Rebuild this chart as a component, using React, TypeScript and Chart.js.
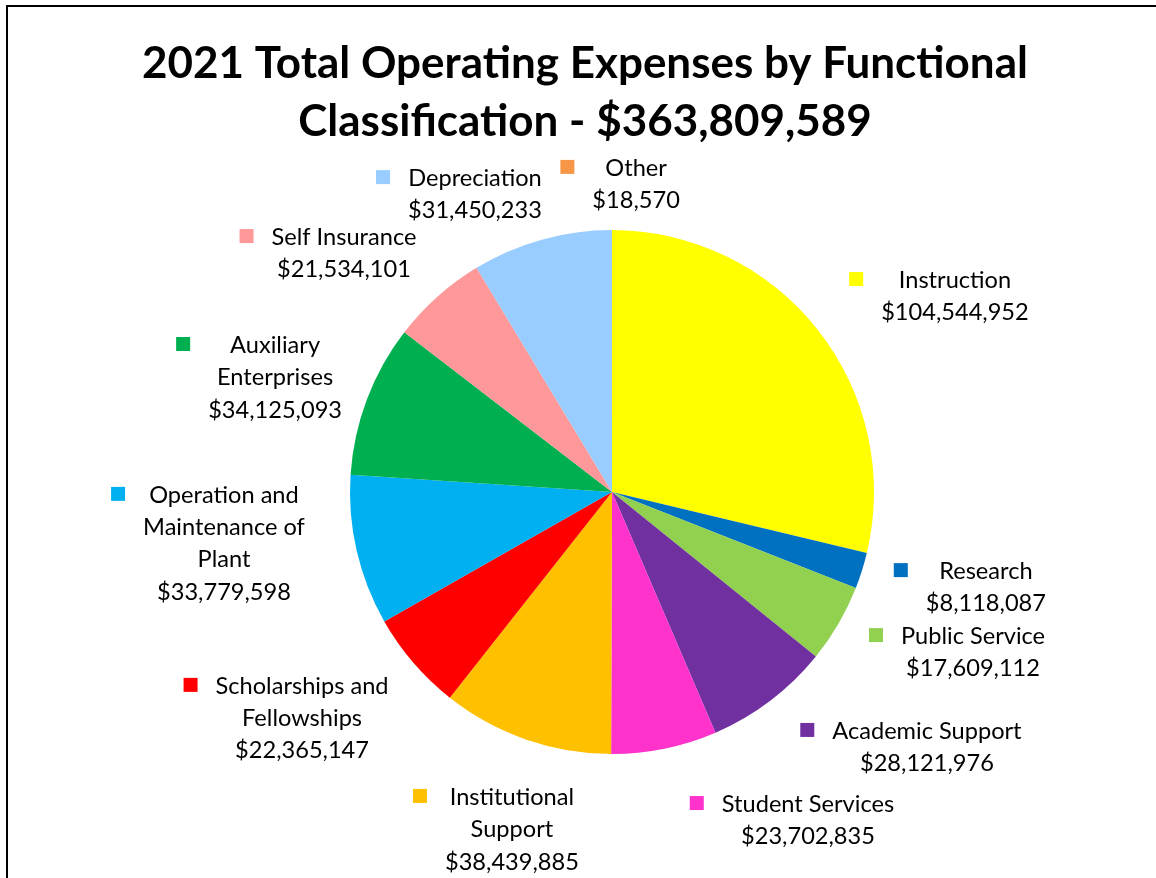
import React, { useEffect, useRef } from "react";
import { Chart, registerables } from "chart.js";

Chart.register(...registerables);

const categories = [
  "Instruction",
  "Research",
  "Public Service",
  "Academic Support",
  "Student Services",
  "Institutional Support",
  "Scholarships and Fellowships",
  "Operation and Maintenance of Plant",
  "Auxiliary Enterprises",
  "Self Insurance",
  "Depreciation",
  "Other",
];

const values = [
  104544952, 8118087, 17609112, 28121976, 23702835, 38439885, 22365147, 33779598,
  34125093, 21534101, 31450233, 18570,
];

const colors = [
  "#FFFF00",
  "#0070C0",
  "#92D050",
  "#7030A0",
  "#FF33CC",
  "#FFC000",
  "#FF0000",
  "#00B0F0",
  "#00B050",
  "#FF9999",
  "#99CCFF",
  "#F79646",
];

const labelLines = [
  ["Instruction"],
  ["Research"],
  ["Public Service"],
  ["Academic Support"],
  ["Student Services"],
  ["Institutional", "Support"],
  ["Scholarships and", "Fellowships"],
  ["Operation and", "Maintenance of", "Plant"],
  ["Auxiliary", "Enterprises"],
  ["Self Insurance"],
  ["Depreciation"],
  ["Other"],
];

// label anchor (text centre x, first-line middle y) in units of the pie radius, relative to pie centre
const labelOffsets = [
  [1.309, -0.809],
  [1.427, 0.302],
  [1.378, 0.55],
  [1.202, 0.912],
  [0.748, 1.191],
  [-0.382, 1.164],
  [-1.183, 0.74],
  [-1.481, 0.011],
  [-1.286, -0.561],
  [-1.023, -0.973],
  [-0.523, -1.198],
  [0.092, -1.237],
];

const titleYear = "2021";

const fmt = (v: number) => "$" + v.toLocaleString("en-US");

const total = values.reduce((a, b) => a + b, 0);
const titleLines = [
  `${titleYear} Total Operating Expenses by Functional`,
  `Classification - ${fmt(total)}`,
];

const decorPlugin = {
  id: "decor",
  beforeDraw(chart: any) {
    const ctx = chart.ctx as CanvasRenderingContext2D;
    ctx.save();
    ctx.fillStyle = "#FFFFFF";
    ctx.fillRect(0, 0, chart.width, chart.height);
    ctx.fillStyle = "#000000";
    ctx.fillRect(6, 5, 2, chart.height);
    ctx.fillRect(6, 5, chart.width, 2);
    ctx.restore();
  },
  afterDatasetsDraw(chart: any) {
    const ctx = chart.ctx as CanvasRenderingContext2D;
    const meta = chart.getDatasetMeta(0);
    const arc = meta.data[0] as any;
    const cx = arc.x;
    const cy = arc.y;
    const r = arc.outerRadius;
    ctx.save();

    // Title
    ctx.fillStyle = "#000000";
    ctx.textAlign = "center";
    ctx.textBaseline = "alphabetic";
    ctx.font = "bold 40px Lato";
    const w0 = ctx.measureText(titleLines[0]).width;
    const size = (40 * 886) / w0;
    ctx.font = `bold ${size.toFixed(2)}px Lato`;
    ctx.fillText(titleLines[0], 585, 78);
    ctx.fillText(titleLines[1], 585, 136);

    // Data labels
    const lineH = 32.3;
    ctx.font = "23.6px Lato";
    labelLines.forEach((lines, i) => {
      const all = [...lines, fmt(values[i])];
      const w = Math.max(...all.map((t) => ctx.measureText(t).width));
      const ax = cx + labelOffsets[i][0] * r;
      const ay = cy + labelOffsets[i][1] * r;
      ctx.fillStyle = "#000000";
      ctx.textAlign = "center";
      all.forEach((t, j) => ctx.fillText(t, ax, ay + j * lineH + 8));
      const left = ax - w / 2;
      ctx.fillStyle = colors[i];
      ctx.fillRect(left - 25 - 7, ay - 1 - 7, 14, 14);
    });
    ctx.restore();
  },
};

export default function App() {
  const ref = useRef<HTMLCanvasElement | null>(null);
  useEffect(() => {
    if (!ref.current) return;
    const chart = new Chart(ref.current, {
      type: "pie",
      data: {
        labels: categories,
        datasets: [
          {
            data: values,
            backgroundColor: colors,
            borderWidth: 0,
            hoverOffset: 0,
          },
        ],
      },
      options: {
        responsive: false,
        animation: false,
        events: [],
        layout: { padding: { left: 350, right: 282, top: 230, bottom: 124 } },
        plugins: {
          legend: { display: false },
          title: { display: false },
          tooltip: { enabled: false },
        },
      },
      plugins: [decorPlugin],
    });
    return () => chart.destroy();
  }, []);
  return (
    <div style={{ position: "fixed", left: 0, top: 0, width: 1156, height: 878, overflow: "hidden" }}>
      <canvas ref={ref} width={1156} height={878} style={{ display: "block" }} />
    </div>
  );
}
